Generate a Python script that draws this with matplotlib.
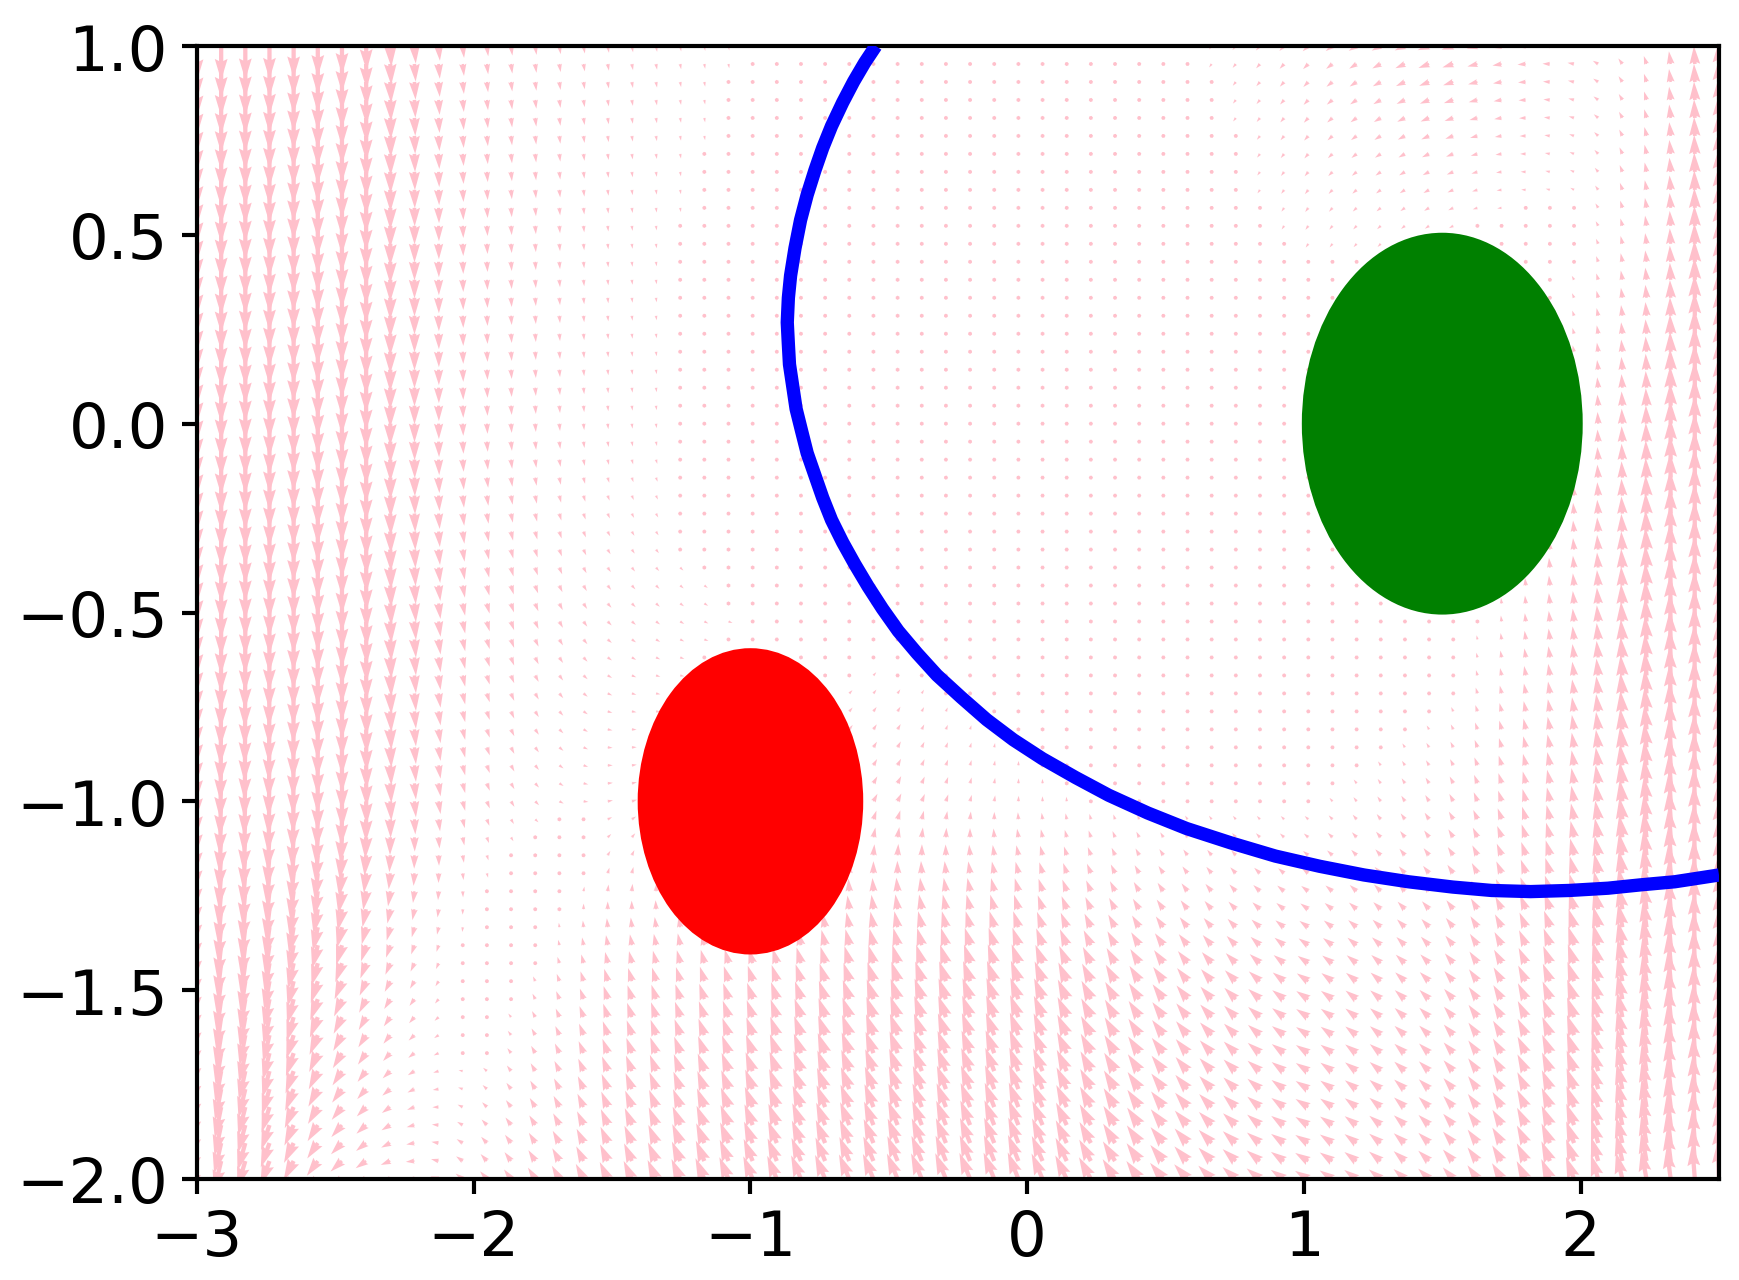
import numpy as np
import matplotlib
matplotlib.use("Agg")
import matplotlib.pyplot as plt
from matplotlib.patches import Circle

# --- data ---
# coarse samples of the pink vector field (arrow length in output pixels, +v = up)
field_x = [-3.0, -2.75, -2.5, -2.25, -2.0, -1.5, -1.0, -0.5, 0.0, 0.5, 1.0, 1.5, 2.0, 2.25, 2.5]
field_y = [-2.0, -1.5, -1.0, -0.5, 0.0, 0.5, 1.0]

field_u = [
    [-5, -7, -9, -7, -5, -6, -7, -8, -8, -10, -10, -8, -6, -4, -1],  # y = -2.0
    [-3, -4, -6, -4, -1, -3, -4, -5, -6, -8, -9, -7, -5, -3, 0],     # y = -1.5
    [-1, -1, 0, 1, 2, 4, 3, 3, 0, -1, -2, -3, -2, -2, 0],            # y = -1.0
    [0, 0, 0, 1, 2, 3, 3, 1.5, 0, 0, 0, 0, -1, -1, 0],               # y = -0.5
    [0, 0, 0, 0, 0.5, 0.5, 0.5, 0, 0, 0, 0, 0, -0.5, -0.5, 0],       # y =  0.0
    [0, 0, 0, 0, 0.5, 0.5, 0.5, 0, 0, -0.5, -2, -3, -2, -1, 0],      # y =  0.5
    [0, 0, 0, 1, 1, 1, 0.5, 0, 0, -1, -4, -9, -5, -2, 0],            # y =  1.0
]
field_v = [
    [-25, -18, -8, -1, 5, 13, 17, 19, 20, 12, 6, 8, 17, 22, 28],     # y = -2.0
    [-27, -22, -14, -6, -1, 10, 12, 15, 16, 11, 6, 7, 15, 21, 28],   # y = -1.5
    [-27, -25, -21, -13, -6, 1, 3, 6, 4, 2, 2, 5, 12, 19, 29],       # y = -1.0
    [-27, -25, -22, -15, -8, -3, -1, 1, 0, 0, 0, 0, 10, 18, 28],     # y = -0.5
    [-27, -25, -22, -15, -8, -4, -2, -1, 0, 0, 0, 0, 7, 14, 25],     # y =  0.0
    [-27, -25, -22, -15, -8, -4, -2, -1, -1, -1, -3, -2, 2, 8, 19],  # y =  0.5
    [-26, -25, -22, -14, -8, -5, -3, -2, -1, -2, -4, -3, 1, 6, 17],  # y =  1.0
]

# trajectory (blue)
traj_x = [-0.547, -0.587, -0.627, -0.667, -0.707, -0.739, -0.767, -0.795, -0.819,
          -0.839, -0.855, -0.863, -0.867, -0.863, -0.859, -0.847, -0.835, -0.815,
          -0.795, -0.767, -0.739, -0.707, -0.667, -0.623, -0.575, -0.523, -0.466,
          -0.398, -0.326, -0.238, -0.146, -0.050, 0.055, 0.175, 0.295, 0.436,
          0.576, 0.736, 0.897, 1.057, 1.217, 1.378, 1.538, 1.678, 1.819, 1.959,
          2.099, 2.219, 2.340, 2.500]
traj_y = [1.0, 0.956, 0.906, 0.850, 0.788, 0.730, 0.671, 0.606, 0.539,
          0.465, 0.392, 0.333, 0.268, 0.210, 0.157, 0.098, 0.039, -0.020,
          -0.078, -0.137, -0.196, -0.255, -0.314, -0.372, -0.431, -0.490, -0.549,
          -0.608, -0.666, -0.725, -0.784, -0.837, -0.887, -0.937, -0.984, -1.031,
          -1.072, -1.110, -1.145, -1.172, -1.195, -1.213, -1.227, -1.236, -1.239, -1.236,
          -1.230, -1.221, -1.213, -1.195]

obstacle_center = (-1.0, -1.0)
obstacle_radius = 0.4
goal_center = (1.5, 0.0)
goal_radius = 0.5

# --- quiver grid ---
gx = np.linspace(-3, 2.5, 64)
gy = np.linspace(-2, 1, 64)
X, Y = np.meshgrid(gx, gy)


def resample(table):
    # spread the coarse readings over the dense quiver grid
    table = np.asarray(table, dtype=float)
    rows = np.array([np.interp(gx, field_x, r) for r in table])
    return np.array([np.interp(gy, field_y, rows[:, i]) for i in range(len(gx))]).T


U = resample(field_u)
V = resample(field_v)

W, H, DPI = 1739, 1281, 300
fig = plt.figure(figsize=(W / DPI, H / DPI), dpi=DPI)
ax = fig.add_axes([197 / W, 1 - 1180 / H, 1522 / W, 1133 / H])

ax.quiver(X, Y, U, V, color='pink', angles='uv', scale_units='dots', scale=0.75,
          width=0.0028, zorder=1)
ax.add_patch(Circle(obstacle_center, obstacle_radius, color='red', zorder=2))
ax.add_patch(Circle(goal_center, goal_radius, color='green', zorder=2))
ax.plot(traj_x, traj_y, color='blue', linewidth=3.2, zorder=3,
        solid_capstyle='butt', solid_joinstyle='round')

ax.set_xlim(-3, 2.5)
ax.set_ylim(-2, 1)
ax.set_xticks([-3, -2, -1, 0, 1, 2])
ax.set_yticks([-2.0, -1.5, -1.0, -0.5, 0.0, 0.5, 1.0])
ax.tick_params(labelsize=15, width=1, length=3.5)
for s in ax.spines.values():
    s.set_linewidth(1)

fig.savefig('out.png', dpi=DPI)
